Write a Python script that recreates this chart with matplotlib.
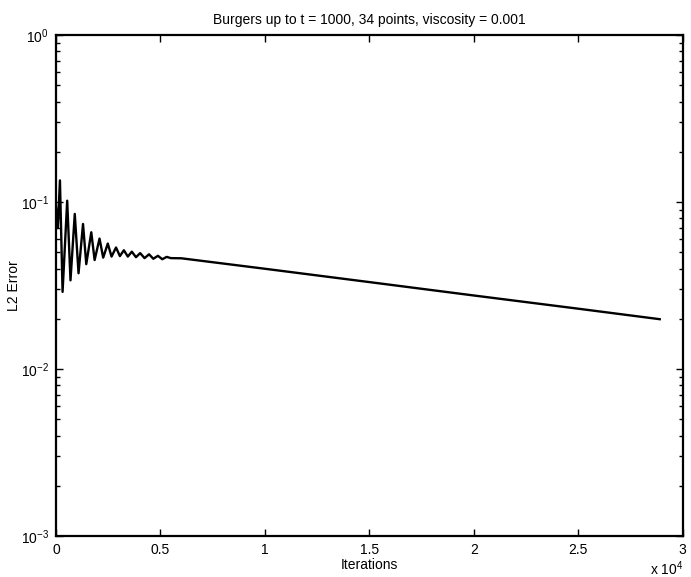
import matplotlib
matplotlib.use("Agg")
import matplotlib.pyplot as plt
from matplotlib.ticker import LogLocator, NullFormatter

# values
iters = [0, 90, 190, 316, 537, 695, 900, 1080, 1295, 1450, 1690, 1850,
         2085, 2260, 2480, 2660, 2875, 3060, 3250, 3440, 3630, 3830,
         4030, 4240, 4455, 4660, 4880, 5090, 5300, 5500, 6000,
         10000, 15000, 20000, 25000, 28900]
l2_error = [0.095, 0.07, 0.135, 0.029, 0.102, 0.034, 0.085, 0.0375, 0.074, 0.0425,
            0.066, 0.045, 0.0605, 0.0465, 0.0565, 0.0472, 0.0535, 0.0475, 0.0515,
            0.0472, 0.0505, 0.0468, 0.0495, 0.0462, 0.0487, 0.0458, 0.0477, 0.0455,
            0.0470, 0.0462, 0.0461, 0.0399, 0.0332, 0.0276, 0.0230, 0.0199]

xtick_vals = [0, 5000, 10000, 15000, 20000, 25000, 30000]
xtick_labels = ["0", "0.5", "1", "1.5", "2", "2.5", "3"]

plt.rcParams['font.family'] = ['Liberation Sans', 'DejaVu Sans']
plt.rcParams['mathtext.fontset'] = 'custom'
plt.rcParams['mathtext.rm'] = 'Liberation Sans'
plt.rcParams['mathtext.it'] = 'Liberation Sans'

fig = plt.figure(figsize=(6.91, 5.77), dpi=100)
ax = fig.add_axes([0.081, 0.071, 0.907, 0.868])

ax.plot(iters, l2_error, color='black', lw=1.7, solid_joinstyle='round')

ax.set_yscale('log')
ax.set_ylim(1e-3, 1)
ax.set_xlim(0, 30000)
ax.set_xticks(xtick_vals)
ax.set_xticklabels(xtick_labels)
ax.yaxis.set_minor_locator(LogLocator(base=10, subs=range(2, 10)))
ax.yaxis.set_minor_formatter(NullFormatter())

ax.tick_params(which='both', direction='in', top=True, right=True, labelsize=10)
ax.tick_params(which='major', length=5, width=1, pad=5)
ax.tick_params(which='minor', length=3, width=1)
for s in ax.spines.values():
    s.set_linewidth(1.6)

ax.set_title("Burgers up to t = 1000, 34 points, viscosity = 0.001", fontsize=10, pad=8)
ax.set_xlabel("Iterations", fontsize=10, labelpad=1)
ax.set_ylabel("L2 Error", fontsize=10)
ax.yaxis.set_label_coords(-0.056, 0.5)
fig.text(0.94, 0.004, r"x 10$^{4}$", fontsize=10)

plt.savefig("out.png", dpi=100)
